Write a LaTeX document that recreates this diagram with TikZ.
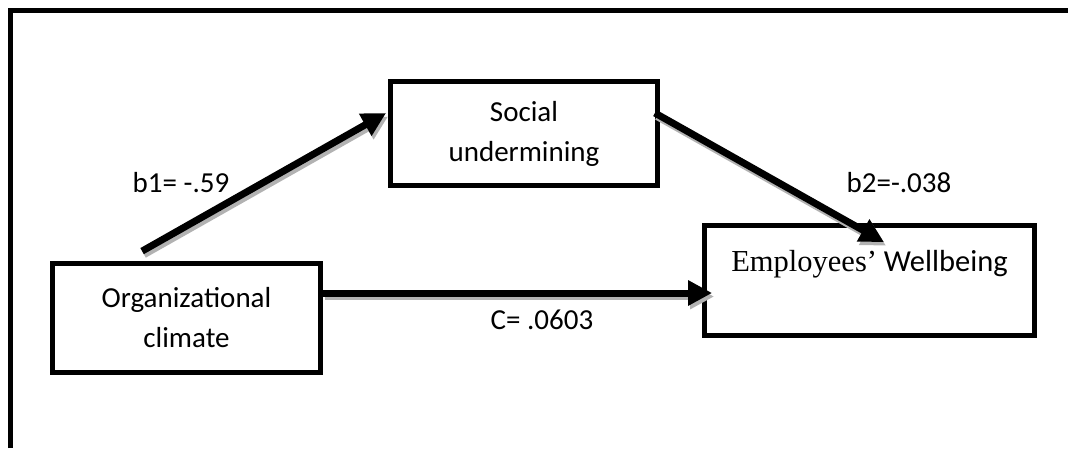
\documentclass[tikz,border=0pt]{standalone}
\usepackage{fontspec}
\setmainfont{Carlito}
\newfontfamily\timesfont{Liberation Serif}
\usetikzlibrary{arrows.meta}
\begin{document}
\begin{tikzpicture}[x=1pt,y=-1pt,
  varbox/.style={draw, line width=4.8pt, align=center, inner sep=0pt, font=\fontsize{29}{40}\selectfont},
  coef/.style={font=\fontsize{29}{35}\selectfont, inner sep=0pt},
  relarrow/.style={line width=7pt, -{Triangle[length=24pt,width=24pt]},
    preaction={draw=gray!60, line width=7pt, -{Triangle[length=24pt,width=24pt]},
      transform canvas={xshift=2pt,yshift=-3.5pt}}}]
\useasboundingbox (0,0) rectangle (1068,448);
\draw[line width=5pt] (10.5,448) -- (10.5,10.5) -- (1068,10.5);
\node[varbox, minimum width=268pt, minimum height=109pt] (org) at (186.5,318){Organizational\\climate};
\node[varbox, minimum width=267pt, minimum height=104pt] (soc) at (524,133.5){Social\\undermining};
\node[varbox, minimum width=330pt, minimum height=110pt, font=\fontsize{30.5}{40}\selectfont] (emp) at (869.5,280.5){{\timesfont Employees’} Wellbeing\\~};
\draw[relarrow]([xshift=92pt,yshift=10pt]org.north west) -- ([xshift=-2pt,yshift=20.5pt]soc.west);
\draw[relarrow]([xshift=-5pt,yshift=20.5pt]soc.east) -- ([xshift=14.5pt,yshift=-19pt]emp.north);
\draw[relarrow]([yshift=25pt]org.east) -- ([xshift=10pt,yshift=-12.5pt]emp.west);
\node[coef] (b1) at (181,183){b1= -.59};
\node[coef] (b2) at (899,183){b2=-.038};
\node[coef] (c) at (542,320){C= .0603};
\end{tikzpicture}
\end{document}
